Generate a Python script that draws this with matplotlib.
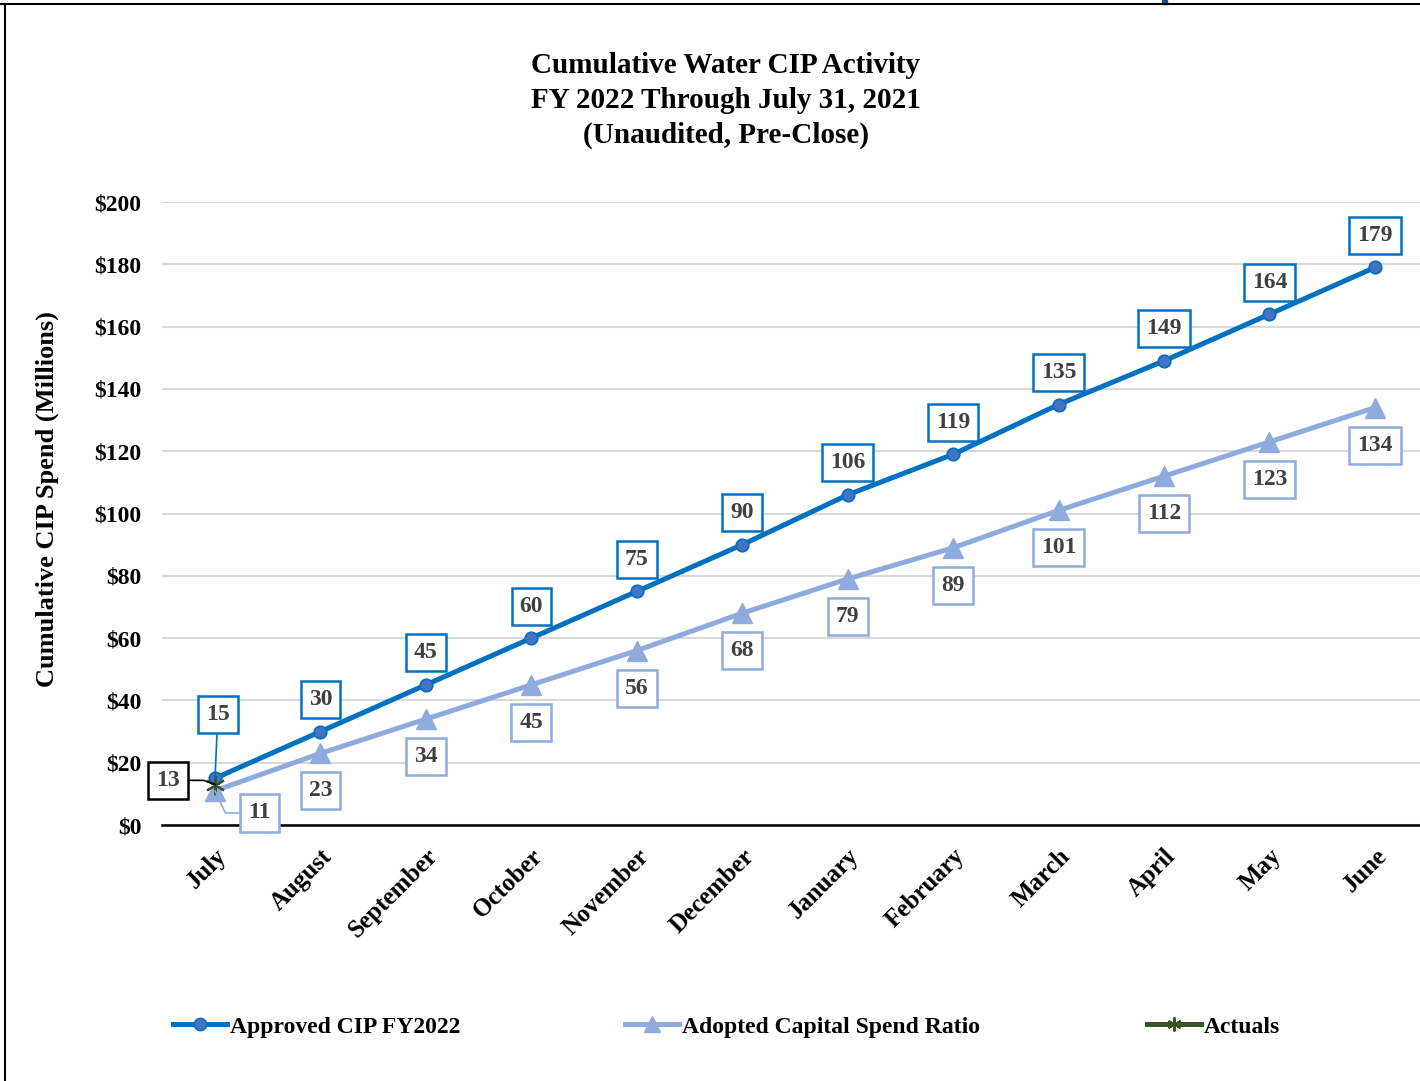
import matplotlib
matplotlib.use("Agg")
import matplotlib.pyplot as plt
from matplotlib.lines import Line2D
from matplotlib.patches import Rectangle
from matplotlib.transforms import ScaledTranslation

# ── data ───────────────────────────────────────────────────────────────────
months = ["July", "August", "September", "October", "November", "December",
          "January", "February", "March", "April", "May", "June"]
approved = [15, 30, 45, 60, 75, 90, 106, 119, 135, 149, 164, 179]
adopted = [11, 23, 34, 45, 56, 68, 79, 89, 101, 112, 123, 134]
actuals = [13]
y_ticks = [0, 20, 40, 60, 80, 100, 120, 140, 160, 180, 200]
y_tick_labels = [f"${v}" for v in y_ticks]
legend_labels = ["Approved CIP FY2022", "Adopted Capital Spend Ratio", "Actuals"]

title = "Cumulative Water CIP Activity\nFY 2022 Through July 31, 2021\n(Unaudited, Pre-Close)"
y_label = "Cumulative CIP Spend (Millions)"

C_APPROVED = "#0070C0"
C_APPROVED_MK = "#4472C4"
C_ADOPTED = "#8FAADC"
C_ACTUALS = "#375623"
C_LABEL = "#404040"
FONT = "Liberation Serif"
FS = 17

plt.rcParams["font.family"] = FONT
plt.rcParams["font.weight"] = "bold"

fig = plt.figure(figsize=(14.2, 10.81), dpi=100)
ax = fig.add_axes([0.1143, 0.2368, 0.8911, 0.5763])

x = list(range(len(months)))
ax.plot(x, approved, color=C_APPROVED, lw=3.6, marker="o", ms=9,
        mfc=C_APPROVED_MK, mec=C_APPROVED, mew=1.2, zorder=3)
ax.plot(x, adopted, color=C_ADOPTED, lw=3.6, marker="^", ms=14,
        mfc=C_ADOPTED, mec=C_ADOPTED, zorder=2)
ax.plot(x[:len(actuals)], actuals, color=C_ACTUALS, lw=3.6,
        marker=(6, 2, 0), ms=14, mec=C_ACTUALS, mew=1.5, zorder=4)

ax.set_xlim(-0.5, len(months) - 0.5)
ax.set_ylim(0, 200)
ax.set_yticks(y_ticks)
ax.set_yticklabels(y_tick_labels, fontsize=FS, fontweight="bold")
ax.set_xticks(x)
ax.set_xticklabels(months, fontsize=18, fontweight="bold", rotation=45,
                   ha="right", va="top", rotation_mode="anchor")
shift = ScaledTranslation(-4 / 72, 0, fig.dpi_scale_trans)
for lbl in ax.get_xticklabels():
    lbl.set_transform(lbl.get_transform() + shift)
ax.tick_params(axis="y", length=0, pad=15)
ax.tick_params(axis="x", length=0, pad=14)
ax.grid(axis="y", color="#D9D9D9", lw=1.5)
ax.set_axisbelow(True)
for s in ["top", "right", "left"]:
    ax.spines[s].set_visible(False)
ax.spines["bottom"].set_color("black")
ax.spines["bottom"].set_linewidth(1.8)
ax.spines["bottom"].set_zorder(1)

fig.text(47 / 1420, 1 - 499 / 1081, y_label, rotation=90, ha="center",
         va="center", fontsize=19, fontweight="bold")


def box(edge):
    return dict(boxstyle="square,pad=0.34", fc="white", ec=edge, lw=1.8)


# ── data labels ──
for i, v in enumerate(approved):
    kw = {}
    off = (0, 23)
    if i == 0:
        off = (2, 46)
        kw["arrowprops"] = dict(arrowstyle="-", color=C_APPROVED, lw=1.2,
                                shrinkA=0, shrinkB=0)
    ax.annotate(str(v), (i, v), xytext=off, textcoords="offset points",
                ha="center", va="center", fontsize=FS, color=C_LABEL,
                bbox=box(C_APPROVED), zorder=6, **kw)
for i, v in enumerate(adopted):
    kw = {}
    off = (0, -27)
    if i == 0:
        off = (32, -16)
        kw["arrowprops"] = dict(arrowstyle="-", color=C_ADOPTED, lw=1.2,
                                shrinkA=0, shrinkB=0,
                                connectionstyle="angle,angleA=0,angleB=-65,rad=0")
    ax.annotate(str(v), (i, v), xytext=off, textcoords="offset points",
                ha="center", va="center", fontsize=FS, color=C_LABEL,
                bbox=box(C_ADOPTED), zorder=6, **kw)
for i, v in enumerate(actuals):
    ax.annotate(str(v), (i, v), xytext=(-34, 3), textcoords="offset points",
                ha="center", va="center", fontsize=FS, color=C_LABEL,
                bbox=box("black"), zorder=6,
                arrowprops=dict(arrowstyle="-", color="black", lw=1.2,
                                shrinkA=0, shrinkB=0,
                                connectionstyle="angle,angleA=0,angleB=160,rad=0"))

fig.text(0.511, 0.952, title, ha="center", va="top", fontsize=21,
         fontweight="bold", linespacing=1.37)

# ── legend: one entry per block, placed like the original ──
handles = [
    Line2D([], [], color=C_APPROVED, lw=3.6, marker="o", ms=9,
           mfc=C_APPROVED_MK, mec=C_APPROVED),
    Line2D([], [], color=C_ADOPTED, lw=3.6, marker="^", ms=12, mfc=C_ADOPTED,
           mec=C_ADOPTED),
    Line2D([], [], color=C_ACTUALS, lw=3.6, marker=(6, 2, 0), ms=10,
           mec=C_ACTUALS, mew=1.5),
]
leg_x = [173, 625, 1147]
for h, lab, lx in zip(handles, legend_labels, leg_x):
    fig.legend([h], [lab], loc="center left", bbox_to_anchor=(lx / 1420, 0.05),
               frameon=False, borderpad=0, borderaxespad=0,
               handlelength=2.3, handletextpad=0.1,
               prop={"family": FONT, "weight": "bold", "size": FS})

# outer frame (chart border, partly cropped)
fig.add_artist(Line2D([0, 1], [0.9965, 0.9965], transform=fig.transFigure,
                      color="black", lw=1.5))
fig.add_artist(Line2D([0.0038, 0.0038], [0, 0.9965], transform=fig.transFigure,
                      color="black", lw=1.5))
fig.add_artist(Rectangle((0.818, 0.996), 0.004, 0.004, transform=fig.transFigure,
                         color="#1F4E79"))

fig.savefig("out.png", dpi=100)
